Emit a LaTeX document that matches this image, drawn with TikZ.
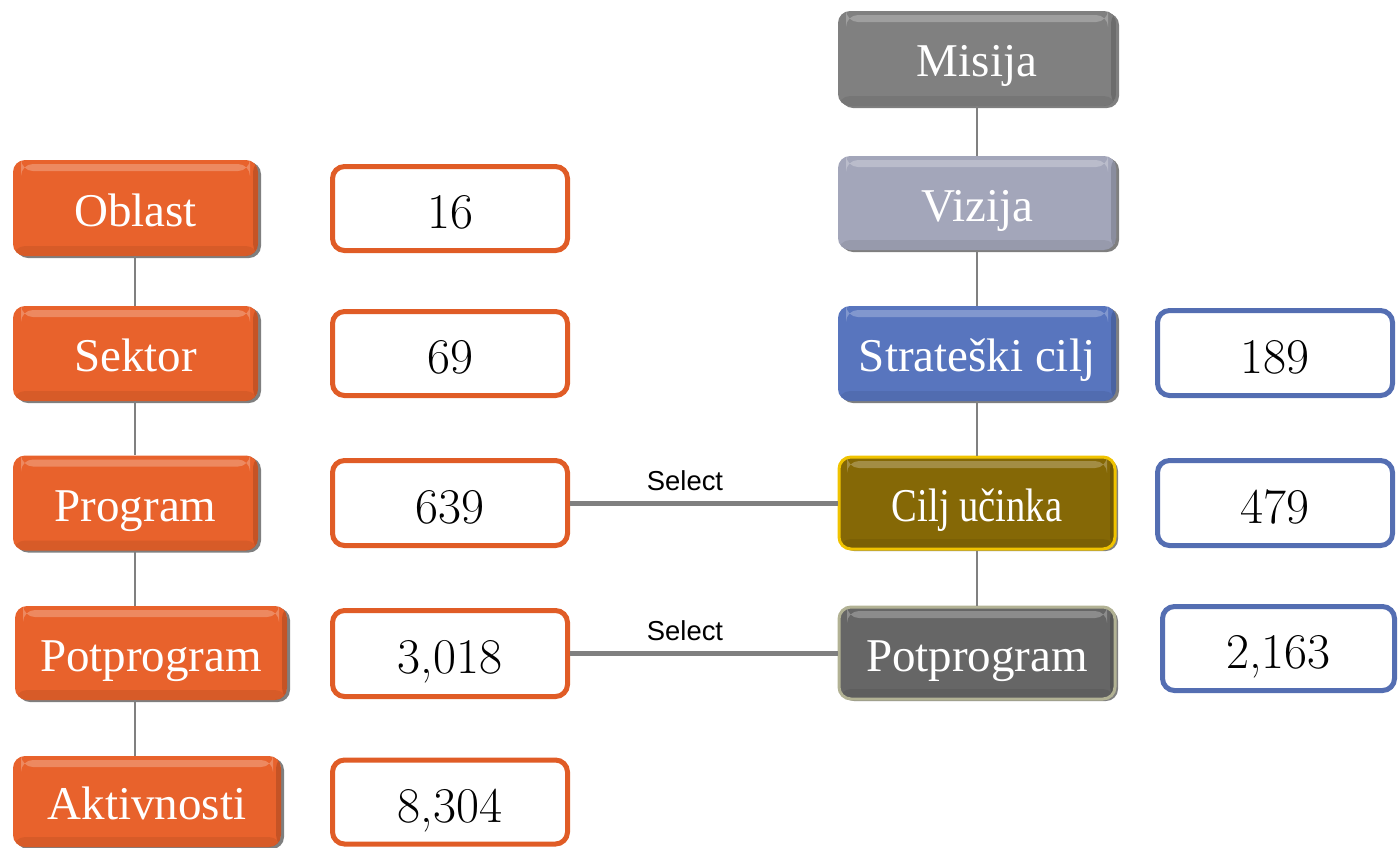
\documentclass[tikz,border=0pt]{standalone}
\usepackage{fontspec}
\newfontfamily\labfont{Liberation Serif}
\newfontfamily\selfont{Liberation Sans}
\usetikzlibrary{shadows}
\definecolor{oran}{RGB}{232,98,44}
\definecolor{orline}{RGB}{224,92,38}
\definecolor{misc}{RGB}{128,128,128}
\definecolor{vizc}{RGB}{163,166,186}
\definecolor{stratc}{RGB}{88,117,190}
\definecolor{ciljc}{RGB}{133,104,6}
\definecolor{gold}{RGB}{240,195,0}
\definecolor{potc}{RGB}{102,102,102}
\definecolor{potline}{RGB}{178,178,148}
\definecolor{blueline}{RGB}{84,110,178}
\definecolor{conn}{RGB}{128,128,128}
\tikzset{
  bev/.style={rounded corners=6pt, inner sep=0pt, text=white,
    font=\labfont\fontsize{23.5}{26}\selectfont, text height=20pt, text depth=2pt,
    drop shadow={shadow xshift=1.5pt, shadow yshift=-1pt, fill=black, opacity=0.5},
    path picture={\fill[white,opacity=0.25] ([xshift=4pt,yshift=-2pt]path picture bounding box.north west) rectangle ([xshift=-4pt,yshift=-5.5pt]path picture bounding box.north east);
      \fill[black,opacity=0.07] ([yshift=5pt]path picture bounding box.south west) rectangle (path picture bounding box.south east);
      \fill[black,opacity=0.15] ([xshift=-2.5pt]path picture bounding box.north east) rectangle (path picture bounding box.south east);}},
  valbox/.style={rounded corners=6pt, fill=white, line width=2.5pt, inner sep=0pt,
    font=\fontsize{25}{28}\selectfont, text height=21pt, text depth=1pt},
  orval/.style={valbox, draw=orline},
  blval/.style={valbox, draw=blueline},
  vline/.style={draw=conn, line width=1pt},
  hline/.style={draw=conn, line width=2.5pt},
  sel/.style={font=\selfont\fontsize{13.7}{15}\selectfont, text=black}
}
\begin{document}
\begin{tikzpicture}[x=0.5pt,y=-0.5pt]
\useasboundingbox (0,0) rectangle (1399,847);
% left column
\node[bev, fill=oran, minimum width=122.5pt, minimum height=48pt] (ob) at (135.5,208) {Oblast};
\node[bev, fill=oran, minimum width=122.5pt, minimum height=47.5pt] (se) at (135.5,353.5) {Sektor};
\node[bev, fill=oran, minimum width=122.5pt, minimum height=47.5pt] (pr) at (135.5,503) {Program};
\node[bev, fill=oran, minimum width=136pt, minimum height=47pt] (pp) at (151,653) {Potprogram};
\node[bev, fill=oran, minimum width=134pt, minimum height=45.5pt] (ak) at (147,801.5) {Aktivnosti};
% left values
\node[orval, minimum width=117.5pt, minimum height=42pt] (v16) at (450,208.5) {16};
\node[orval, minimum width=117.5pt, minimum height=42pt] (v69) at (450,353.5) {69};
\node[orval, minimum width=117.5pt, minimum height=42.5pt] (v639) at (450,503) {639};
\node[orval, minimum width=117.5pt, minimum height=43pt] (v3018) at (450,653.5) {3,018};
\node[orval, minimum width=117.5pt, minimum height=42pt] (v8304) at (450,802) {8,304};
% right column
\node[bev, fill=misc, minimum width=139pt, minimum height=47.5pt] (mi) at (977,58.5) {Misija};
\node[bev, fill=vizc, minimum width=139pt, minimum height=47pt] (vi) at (977,203) {Vizija};
\node[bev, fill=stratc, minimum width=139pt, minimum height=47.5pt] (st) at (977,353.5) {Strateški cilj};
\node[bev, fill=ciljc, draw=gold, line width=1.5pt, minimum width=138pt, minimum height=46pt] (ci) at (977,503) {\scalebox{0.82}[1]{Cilj učinka}};
\node[bev, fill=potc, draw=potline, line width=1.5pt, minimum width=138pt, minimum height=46pt] (pR) at (977,653) {Potprogram};
% right values
\node[blval, minimum width=117.5pt, minimum height=42.5pt] (v189) at (1275,353) {189};
\node[blval, minimum width=117.5pt, minimum height=42.5pt] (v479) at (1275,503) {479};
\node[blval, minimum width=116pt, minimum height=42pt] (v2163) at (1278.5,648.5) {2,163};
% connectors left
\draw[vline] (ob.south -| 135,0) -- (se.north -| 135,0);
\draw[vline] (se.south -| 135,0) -- (pr.north -| 135,0);
\draw[vline] (pr.south -| 135,0) -- (pp.north -| 135,0);
\draw[vline] (pp.south -| 135,0) -- (ak.north -| 135,0);
% connectors right
\draw[vline] (mi.south) -- (vi.north);
\draw[vline] (vi.south) -- (st.north);
\draw[vline] (st.south) -- (ci.north);
\draw[vline] (ci.south) -- (pR.north);
% select links
\draw[hline] (v639.east) -- node[sel, pos=0.43, above=1.5pt] {Select} (ci.west);
\draw[hline] (v3018.east |- pR.west) -- node[sel, pos=0.43, above=1.5pt] {Select} (pR.west);
\end{tikzpicture}
\end{document}
